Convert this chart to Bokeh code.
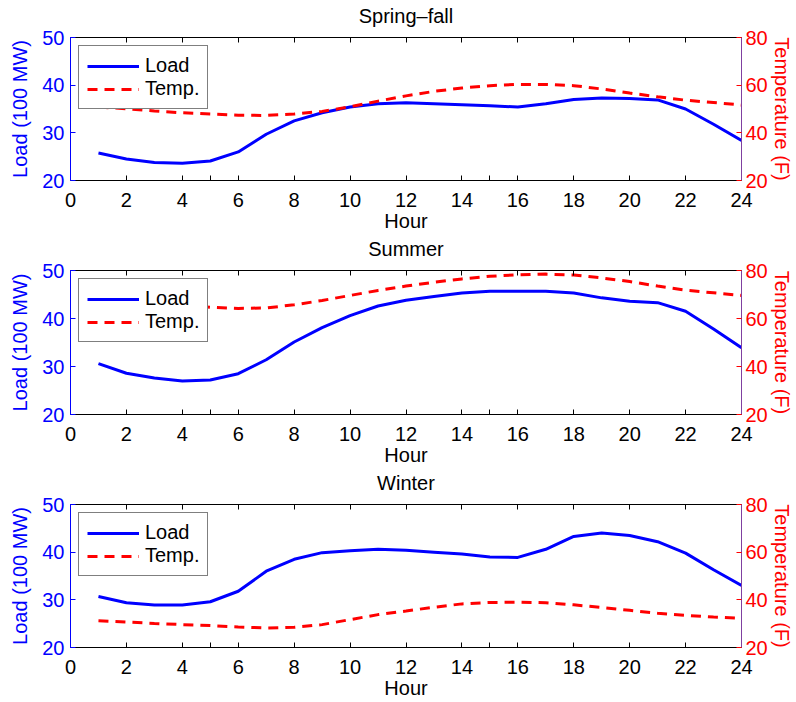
from bokeh.plotting import figure
from bokeh.models import LinearAxis, Range1d, FixedTicker, Legend, LegendItem
from bokeh.layouts import column
from bokeh.embed import file_html
from bokeh.resources import INLINE

hours = list(range(1, 25))
titles = ["Spring–fall", "Summer", "Winter"]

load_springfall = [25.75, 24.5, 23.8, 23.6, 24.1, 26.0, 29.7, 32.5, 34.2, 35.4, 36.1, 36.3,
                   36.1, 35.9, 35.7, 35.4, 36.1, 37.0, 37.3, 37.2, 36.9, 35.0, 31.8, 28.4]
temp_springfall = [50.8, 50.1, 49.2, 48.4, 47.9, 47.4, 47.3, 47.9, 49.0, 50.9, 53.3, 55.5,
                   57.4, 58.8, 59.8, 60.3, 60.3, 59.8, 58.4, 56.7, 55.1, 53.7, 52.7, 51.7]

load_summer = [30.6, 28.6, 27.6, 27.0, 27.2, 28.5, 31.4, 35.1, 38.1, 40.6, 42.6, 43.8,
               44.6, 45.3, 45.7, 45.7, 45.7, 45.3, 44.3, 43.6, 43.3, 41.5, 37.8, 33.9]
temp_summer = [69.0, 67.5, 66.3, 65.4, 64.7, 64.2, 64.4, 65.7, 67.5, 69.6, 71.7, 73.5,
               75.1, 76.5, 77.6, 78.2, 78.5, 78.1, 76.9, 75.4, 73.5, 71.8, 70.7, 69.6]

load_winter = [30.7, 29.4, 28.9, 28.9, 29.6, 31.8, 36.0, 38.5, 39.9, 40.3, 40.6, 40.4,
               40.0, 39.6, 39.0, 38.9, 40.6, 43.3, 44.0, 43.5, 42.2, 39.8, 36.3, 33.0]
temp_winter = [31.25, 30.7, 30.1, 29.6, 29.2, 28.6, 28.2, 28.5, 29.6, 31.7, 33.8, 35.3,
               36.9, 38.3, 38.9, 39.0, 38.8, 37.9, 36.8, 35.6, 34.4, 33.5, 32.8, 32.2]

loads = [load_springfall, load_summer, load_winter]
temps = [temp_springfall, temp_summer, temp_winter]

x_ticks = list(range(0, 25, 2))
x_minor = [5, 15]
load_ticks = [20, 30, 40, 50]
temp_ticks = [20, 40, 60, 80]

FONT = "Liberation Sans"
FS = "20px"
BLUE = "#0000FF"
RED = "#FF0000"
tops = [37, 36, 35]
bottoms = [53, 54, 55]

figs = []
for i in range(3):
    p = figure(width=796, height=234, x_range=Range1d(0, 24), y_range=Range1d(20, 50),
               output_backend="svg", toolbar_location=None, title=None,
               min_border_left=70, min_border_right=55,
               min_border_top=tops[i], min_border_bottom=bottoms[i],
               x_axis_location=None, y_axis_location=None)
    p.extra_y_ranges = {"temp": Range1d(20, 80)}
    p.grid.visible = False
    p.outline_line_color = None
    p.background_fill_color = "white"
    p.border_fill_color = "white"

    # bottom axis
    xa = LinearAxis(ticker=FixedTicker(ticks=x_ticks, minor_ticks=x_minor), axis_label="Hour")
    xa.major_tick_in = 5
    xa.major_tick_out = 0
    xa.minor_tick_in = 5
    xa.minor_tick_out = 0
    xa.axis_line_color = "black"
    xa.major_tick_line_color = "black"
    xa.minor_tick_line_color = "black"
    xa.major_label_text_font = FONT
    xa.major_label_text_font_size = FS
    xa.major_label_text_color = "black"
    xa.major_label_standoff = 12
    xa.axis_label_text_font = FONT
    xa.axis_label_text_font_size = FS
    xa.axis_label_text_font_style = "normal"
    xa.axis_label_text_color = "black"
    xa.axis_label_standoff = 0
    p.add_layout(xa, "below")

    # top axis: box edge with inward ticks, carries the panel title as its label
    ta = LinearAxis(ticker=FixedTicker(ticks=x_ticks, minor_ticks=[]), axis_label=titles[i])
    ta.major_tick_in = 5
    ta.major_tick_out = 0
    ta.minor_tick_line_color = None
    ta.axis_line_color = "black"
    ta.major_tick_line_color = "black"
    ta.major_label_text_color = None
    ta.major_label_text_font_size = "1px"
    ta.major_label_standoff = 0
    ta.axis_label_text_font = FONT
    ta.axis_label_text_font_size = FS
    ta.axis_label_text_font_style = "normal"
    ta.axis_label_text_color = "black"
    ta.axis_label_standoff = 11
    p.add_layout(ta, "above")

    # left axis
    ya = LinearAxis(ticker=FixedTicker(ticks=load_ticks, minor_ticks=[]), axis_label="Load (100 MW)")
    ya.major_tick_in = 5
    ya.major_tick_out = 0
    ya.minor_tick_line_color = None
    ya.axis_line_color = BLUE
    ya.major_tick_line_color = BLUE
    ya.major_label_text_color = BLUE
    ya.major_label_text_font = FONT
    ya.major_label_text_font_size = FS
    ya.major_label_standoff = 6
    ya.axis_label_text_color = BLUE
    ya.axis_label_text_font = FONT
    ya.axis_label_text_font_size = FS
    ya.axis_label_text_font_style = "normal"
    ya.axis_label_standoff = 8
    p.add_layout(ya, "left")

    # right axis
    ra = LinearAxis(y_range_name="temp", ticker=FixedTicker(ticks=temp_ticks, minor_ticks=[]),
                    axis_label="Temperature (F)")
    ra.major_tick_in = 5
    ra.major_tick_out = 0
    ra.minor_tick_line_color = None
    ra.axis_line_color = "#7F40A0"
    ra.major_tick_line_color = RED
    ra.major_label_text_color = RED
    ra.major_label_text_font = FONT
    ra.major_label_text_font_size = FS
    ra.major_label_standoff = 4
    ra.axis_label_text_color = RED
    ra.axis_label_text_font = FONT
    ra.axis_label_text_font_size = FS
    ra.axis_label_text_font_style = "normal"
    ra.axis_label_standoff = 0
    p.add_layout(ra, "right")

    r_load = p.line(hours, loads[i], line_color=BLUE, line_width=3)
    r_temp = p.line(hours, temps[i], line_color=RED, line_width=3, line_dash="10 7",
                    y_range_name="temp")

    leg = Legend(items=[LegendItem(label="Load", renderers=[r_load]),
                        LegendItem(label="Temp.", renderers=[r_temp])],
                 location="top_left")
    leg.margin = 8
    leg.padding = 8
    leg.spacing = 0
    leg.glyph_width = 52
    leg.glyph_height = 20
    leg.label_height = 20
    leg.label_standoff = 6
    leg.label_text_font = FONT
    leg.label_text_font_size = FS
    leg.label_text_color = "black"
    leg.border_line_color = "black"
    leg.border_line_width = 1.5
    leg.background_fill_color = "white"
    leg.background_fill_alpha = 1.0
    p.add_layout(leg)

    figs.append(p)

layout = column(*figs, spacing=0)
open("out.html", "w").write(file_html(layout, INLINE))
